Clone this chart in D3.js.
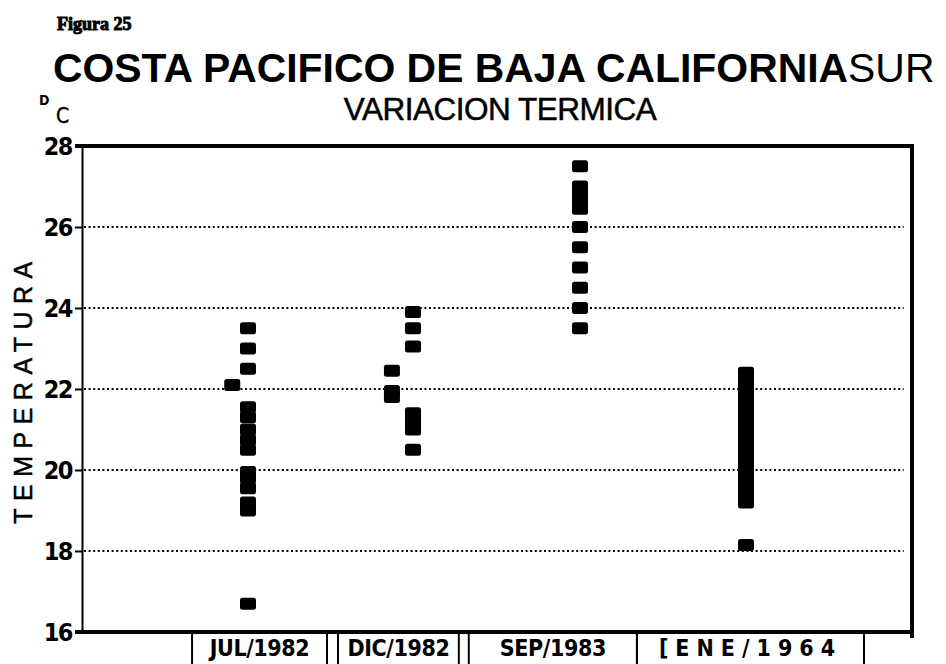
<!DOCTYPE html>
<html>
<head>
<meta charset="utf-8">
<script src="https://cdn.jsdelivr.net/npm/d3@7"></script>
<style>
  body { margin: 0; background: #fff; }
  svg { display: block; }
  .narrow { font-family: "Liberation Sans Narrow", "DejaVu Sans Condensed", "Liberation Sans", sans-serif; }
</style>
</head>
<body>
<div id="canvas"></div>
<script>
// categories shown under the chart
const categories = ["JUL/1982", "DIC/1982", "SEP/1983", "[ENE/1964"];
const yTicks = [16, 18, 20, 22, 24, 26, 28];
const gridValues = [18, 20, 22, 24, 26];

// temperatures (°C), one array per column of marks
const jul1982 = [23.5, 23.0, 22.5, 21.55, 21.3, 21.0, 20.75, 20.5, 19.95, 19.8, 19.55, 19.2, 19.0, 16.7];
const jul1982Side = [22.1];
const dic1982Left = [22.45, 21.95, 21.8];
const dic1982Right = [23.9, 23.5, 23.05, 21.4, 21.2, 21.0, 20.5];
const sep1983 = [27.5, 27.0, 26.8, 26.6, 26.45, 26.0, 25.5, 25.0, 24.5, 24.0, 23.5];
const ene1964 = [22.4, 22.2, 22.0, 21.8, 21.6, 21.4, 21.2, 21.0, 20.8, 20.6, 20.4, 20.2, 20.0, 19.8, 19.6, 19.4, 19.2, 18.15];

const w = 946;
const h = 664;
const margin = { top: 146, right: 34, bottom: 32, left: 82 };
const width = w - margin.left - margin.right;
const height = h - margin.top - margin.bottom;

const svg = d3.select("#canvas").append("svg")
  .attr("width", w)
  .attr("height", h);

const x = d3.scaleLinear().domain([0, 5]).range([0, width]);
const y = d3.scaleLinear().domain([16, 28]).range([height, 0]);

// where each column of marks sits on the x axis (in x units)
const columns = [
  { pos: 1.0, values: jul1982 },
  { pos: 0.905, values: jul1982Side },
  { pos: 1.867, values: dic1982Left },
  { pos: 1.994, values: dic1982Right },
  { pos: 3.0, values: sep1983 },
  { pos: 4.0, values: ene1964 }
];
// label boxes under the axis (x units)
const labelBoxes = [
  { from: 0.663, to: 1.476 },
  { from: 1.542, to: 2.27 },
  { from: 2.33, to: 3.343 },
  { from: 3.343, to: 4.711 }
];

// titles
svg.append("text")
  .attr("x", 57).attr("y", 30)
  .attr("font-family", "Liberation Serif, serif")
  .attr("font-weight", "bold")
  .attr("font-size", 18)
  .attr("stroke", "#000").attr("stroke-width", 1)
  .text("Figura 25");

const title = svg.append("text")
  .attr("x", 53).attr("y", 82)
  .attr("font-family", "Liberation Sans, Arial, sans-serif")
  .attr("font-size", 40.9);
title.append("tspan").attr("font-weight", "bold").text("COSTA PACIFICO DE BAJA CALIFORNIA");
title.append("tspan").text("SUR");

svg.append("text")
  .attr("x", margin.left + width / 2 + 3).attr("y", 120)
  .attr("text-anchor", "middle")
  .attr("font-family", "Liberation Sans, Arial, sans-serif")
  .attr("font-size", 31.5)
  .attr("letter-spacing", -0.5)
  .attr("stroke", "#000").attr("stroke-width", 0.5)
  .text("VARIACION TERMICA");

// °C unit
svg.append("text").attr("class", "narrow")
  .attr("x", 39).attr("y", 105)
  .attr("font-weight", "bold").attr("font-size", 14)
  .text("D");
svg.append("text").attr("class", "narrow")
  .attr("x", 56).attr("y", 123)
  .attr("font-size", 21)
  .attr("stroke", "#000").attr("stroke-width", 0.4)
  .text("C");

svg.append("text")
  .attr("transform", "translate(32," + (margin.top + y(22)) + ") rotate(-90)")
  .attr("text-anchor", "middle")
  .attr("font-family", "Liberation Sans, Arial, sans-serif")
  .attr("font-size", 25)
  .attr("letter-spacing", 7.5)
  .attr("stroke", "#000").attr("stroke-width", 0.5)
  .text("TEMPERATURA");

const chart = svg.append("g")
  .attr("transform", "translate(" + margin.left + "," + margin.top + ")");

// dotted grid lines
chart.selectAll(".grid")
  .data(gridValues)
  .enter().append("line")
  .attr("class", "grid")
  .attr("x1", 2).attr("x2", x(4.95))
  .attr("y1", d => y(d)).attr("y2", d => y(d))
  .attr("stroke", "#000")
  .attr("stroke-width", 2)
  .attr("stroke-dasharray", "2,2.6");

// left axis with ticks and labels
const yAxis = d3.axisLeft(y)
  .tickValues(yTicks)
  .tickSize(7)
  .tickPadding(3)
  .tickFormat(d3.format("d"));
const yG = chart.append("g").call(yAxis);
yG.select(".domain").attr("stroke-width", 2);
yG.selectAll(".tick line").attr("stroke-width", 2);
yG.selectAll(".tick text")
  .attr("class", "narrow")
  .attr("font-size", 25)
  .attr("font-weight", "bold")
  .attr("letter-spacing", -1.5)
  .attr("fill", "#000");

// frame: thick top, right and bottom
chart.append("line")
  .attr("x1", -7).attr("x2", width)
  .attr("y1", y(28)).attr("y2", y(28))
  .attr("stroke", "#000").attr("stroke-width", 4);
chart.append("line")
  .attr("x1", -7).attr("x2", width + 2)
  .attr("y1", y(16)).attr("y2", y(16))
  .attr("stroke", "#000").attr("stroke-width", 4);
chart.append("line")
  .attr("x1", width).attr("x2", width)
  .attr("y1", y(28) - 2).attr("y2", y(16) + 6)
  .attr("stroke", "#000").attr("stroke-width", 4);

// marks
const markW = 16;
const markH = 12;
columns.forEach(function(col){
  chart.selectAll(null)
    .data(col.values)
    .enter().append("rect")
    .attr("x", x(col.pos) - markW / 2)
    .attr("y", d => y(d) - markH / 2)
    .attr("width", markW)
    .attr("height", markH)
    .attr("rx", 2.5)
    .attr("fill", "#000");
});

// category labels in boxes below the axis
const boxes = chart.selectAll(".box")
  .data(labelBoxes)
  .enter().append("g")
  .attr("class", "box");
boxes.append("line")
  .attr("x1", d => x(d.from)).attr("x2", d => x(d.from))
  .attr("y1", height + 2).attr("y2", h - margin.top)
  .attr("stroke", "#000").attr("stroke-width", 2);
boxes.append("line")
  .attr("x1", d => x(d.to)).attr("x2", d => x(d.to))
  .attr("y1", height + 2).attr("y2", h - margin.top)
  .attr("stroke", "#000").attr("stroke-width", 2);
boxes.append("text")
  .attr("class", "narrow")
  .attr("x", d => x((d.from + d.to) / 2))
  .attr("y", height + 24)
  .attr("text-anchor", "middle")
  .attr("font-size", 23)
  .attr("font-weight", "bold")
  .attr("letter-spacing", (d, i) => i === 3 ? 7 : -0.4)
  .text((d, i) => categories[i]);
</script>
</body>
</html>
